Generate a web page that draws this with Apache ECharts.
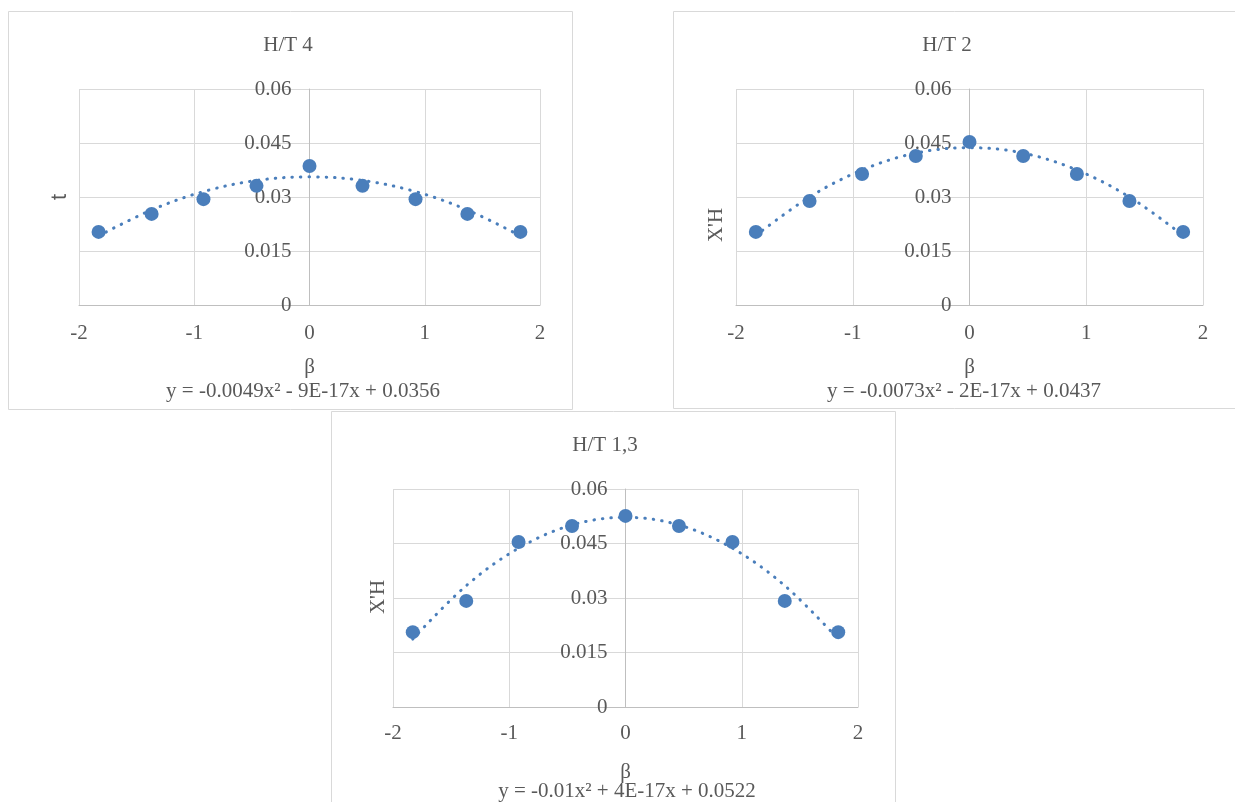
<!DOCTYPE html>
<html>
<head>
<meta charset="utf-8">
<script src="https://cdn.jsdelivr.net/npm/echarts@6/dist/echarts.min.js"></script>
<style>
html,body{margin:0;padding:0;background:#fff;}
#main{width:1235px;height:802px;}
</style>
</head>
<body>
<div id="main"></div>
<script>
// ---- data ----
const betaValues = [-1.83, -1.37, -0.92, -0.46, 0, 0.46, 0.92, 1.37, 1.83];
const ht4Values  = [0.0203, 0.0253, 0.0294, 0.0331, 0.0386, 0.0331, 0.0294, 0.0253, 0.0203];
const ht2Values  = [0.0203, 0.0289, 0.0364, 0.0414, 0.0453, 0.0414, 0.0364, 0.0289, 0.0203];
const ht13Values = [0.0206, 0.0292, 0.0454, 0.0498, 0.0526, 0.0498, 0.0454, 0.0292, 0.0206];
// dotted trend curves, read at the same beta positions
const ht4Trend  = [0.0192, 0.0264, 0.0315, 0.0346, 0.0356, 0.0346, 0.0315, 0.0264, 0.0192];
const ht2Trend  = [0.0193, 0.0300, 0.0375, 0.0422, 0.0437, 0.0422, 0.0375, 0.0300, 0.0193];
const ht13Trend = [0.0187, 0.0334, 0.0437, 0.0501, 0.0522, 0.0501, 0.0437, 0.0334, 0.0187];
const panelTitles = ['H/T 4', 'H/T 2', 'H/T 1,3'];
const yNames = ['t', "X'H", "X'H"];
const xName = 'β';
const equations = [
  'y = -0.0049x² - 9E-17x + 0.0356',
  'y = -0.0073x² - 2E-17x + 0.0437',
  'y = -0.01x² + 4E-17x + 0.0522'
];
const xTicks = {min: -2, max: 2, interval: 1};
const yTicks = {min: 0, max: 0.06, interval: 0.015};

// ---- layout ----
const FONT = '"Liberation Serif", "Times New Roman", serif';
const SANS = '"Liberation Sans", Arial, sans-serif';
const FS = 21;
const TXT = '#595959';
const BLUE = '#4a7ebb';
const panels = [
  {box: [8, 11, 564, 398], grid: {left: 79, top: 89, width: 461, height: 216},
   title: [288, 45], eq: [303, 391], yname: [60, 197], ynameFont: '22px ' + SANS,
   vals: ht4Values, trend: ht4Trend, labGap: 18, nameGap: 52},
  {box: [673, 11, 580, 397], grid: {left: 736, top: 89, width: 467, height: 216},
   title: [947, 45], eq: [964, 391], yname: [716, 225], ynameFont: FS + 'px ' + FONT,
   vals: ht2Values, trend: ht2Trend, labGap: 18, nameGap: 52},
  {box: [331, 411, 564, 400], grid: {left: 393, top: 489, width: 465, height: 218},
   title: [605, 445], eq: [627, 791], yname: [378, 597], ynameFont: FS + 'px ' + FONT,
   vals: ht13Values, trend: ht13Trend, labGap: 16, nameGap: 55}
];

const grids = [], xAxes = [], yAxes = [], series = [], graphics = [];
panels.forEach((p, i) => {
  graphics.push({type: 'rect', shape: {x: p.box[0] + 0.5, y: p.box[1] + 0.5, width: p.box[2], height: p.box[3]},
    style: {fill: '#fff', stroke: '#d9d9d9', lineWidth: 1}, z: -10});
  graphics.push({type: 'text', x: p.title[0], y: p.title[1],
    style: {text: panelTitles[i], font: FS + 'px ' + FONT, fill: TXT, textAlign: 'center', textVerticalAlign: 'middle'}});
  graphics.push({type: 'text', x: p.eq[0], y: p.eq[1],
    style: {text: equations[i], font: FS + 'px ' + FONT, fill: TXT, textAlign: 'center', textVerticalAlign: 'middle'}});
  graphics.push({type: 'text', x: p.yname[0], y: p.yname[1], rotation: Math.PI / 2,
    style: {text: yNames[i], font: p.ynameFont, fill: TXT, textAlign: 'center', textVerticalAlign: 'middle'}});

  grids.push(Object.assign({containLabel: false}, p.grid));
  xAxes.push({
    type: 'value', gridIndex: i, min: xTicks.min, max: xTicks.max, interval: xTicks.interval,
    name: xName, nameLocation: 'middle', nameGap: p.nameGap,
    nameTextStyle: {fontFamily: FONT, fontSize: FS, color: TXT},
    axisLine: {show: true, onZero: false, lineStyle: {color: '#bfbfbf', width: 1}},
    axisTick: {show: false},
    axisLabel: {fontFamily: FONT, fontSize: FS, color: TXT, margin: p.labGap},
    splitLine: {show: true, lineStyle: {color: '#d9d9d9', width: 1}}
  });
  // the value axis sits at beta = 0 (middle of the symmetric x range), labels follow it
  yAxes.push({
    type: 'value', gridIndex: i, min: yTicks.min, max: yTicks.max, interval: yTicks.interval,
    position: 'left', offset: -p.grid.width / 2,
    axisLine: {show: true, onZero: false, lineStyle: {color: '#bfbfbf', width: 1}},
    axisTick: {show: false},
    axisLabel: {fontFamily: FONT, fontSize: FS, color: TXT, margin: 18},
    splitLine: {show: true, lineStyle: {color: '#d9d9d9', width: 1}}
  });
  series.push({
    type: 'line', xAxisIndex: i, yAxisIndex: i, smooth: 0.35, showSymbol: false, silent: true, z: 2,
    data: betaValues.map((b, k) => [b, p.trend[k]]),
    lineStyle: {color: BLUE, width: 3, type: [0.5, 8], cap: 'round'}
  });
  series.push({
    type: 'scatter', xAxisIndex: i, yAxisIndex: i, symbolSize: 14, z: 3,
    data: betaValues.map((b, k) => [b, p.vals[k]]),
    itemStyle: {color: BLUE, opacity: 1}
  });
});

const chart = echarts.init(document.getElementById('main'), null, {renderer: 'canvas'});
chart.setOption({
  backgroundColor: '#fff',
  animation: false,
  grid: grids, xAxis: xAxes, yAxis: yAxes, series: series,
  graphic: {elements: graphics}
});
</script>
</body>
</html>
